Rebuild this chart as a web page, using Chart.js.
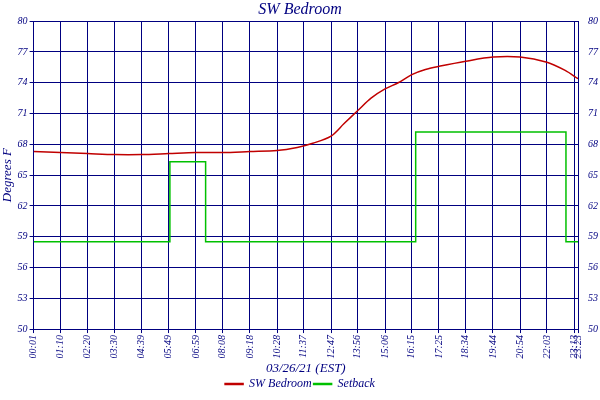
<!DOCTYPE html><html><head><script src="https://cdn.jsdelivr.net/npm/chart.js@4"></script>
<style>body{margin:0;background:#fff}#w{width:600px;height:400px}</style></head><body><div id="w"><canvas id="c"></canvas></div>
<script>
const tickLabels=["00:01","01:10","02:20","03:30","04:39","05:49","06:59","08:08","09:18","10:28","11:37","12:47","13:56","15:06","16:15","17:25","18:34","19:44","20:54","22:03","23:13","23:23"];
const tickMinutes=[1,70,140,210,279,349,419,488,558,628,697,767,836,906,975,1045,1114,1184,1254,1323,1393,1403];
const tempMinutes=[1,70,140,210,279,349,419,488,558,628,680,720,767,800,836,870,906,940,975,1010,1045,1114,1184,1254,1323,1370,1403];
const tempValues=[67.3,67.2,67.1,67.0,67.0,67.1,67.2,67.2,67.3,67.4,67.7,68.1,68.8,70.0,71.3,72.5,73.4,74.0,74.8,75.3,75.6,76.1,76.5,76.5,76.0,75.2,74.4];
const setMinutes=[1,352,352,444,444,985,985,1372,1372,1403];
const setValues=[58.5,58.5,66.3,66.3,58.5,58.5,69.2,69.2,58.5,58.5];
const yTicks=[50,53,56,59,62,65,68,71,74,77,80];
const navy='#000080', F='Liberation Serif';
const pts=(xs,ys)=>xs.map((x,i)=>({x,y:ys[i]}));
new Chart(document.getElementById('c'),{type:'line',data:{datasets:[
{label:'SW Bedroom',data:pts(tempMinutes,tempValues),borderColor:'#c00000',backgroundColor:'#c00000',borderWidth:1.5,pointRadius:0,tension:0.3},
{label:'Setback',data:pts(setMinutes,setValues),borderColor:'#00c000',backgroundColor:'#00c000',borderWidth:1.5,pointRadius:0}]},
options:{animation:false,responsive:true,maintainAspectRatio:false,layout:{padding:{left:0,right:0,top:0,bottom:0}},
plugins:{title:{display:true,text:'SW Bedroom',color:navy,font:{family:F,size:16,style:'italic',weight:'normal'},padding:{top:0,bottom:2}},
legend:{position:'bottom',labels:{color:navy,font:{family:F,size:12,style:'italic'},boxWidth:18,boxHeight:1,padding:2}}},
scales:{x:{type:'linear',min:1,max:1403,afterBuildTicks:a=>{a.ticks=tickMinutes.map(v=>({value:v}))},
ticks:{autoSkip:false,maxRotation:90,minRotation:90,padding:2,color:navy,font:{family:F,size:10,style:'italic'},callback:(v,i)=>tickLabels[i]},
grid:{color:navy,lineWidth:1,tickLength:4},border:{color:navy},title:{display:true,text:'03/26/21 (EST)',color:navy,font:{family:F,size:13,style:'italic'},padding:0}},
y:{min:50,max:80,afterBuildTicks:a=>{a.ticks=yTicks.map(v=>({value:v}))},ticks:{padding:2,color:navy,font:{family:F,size:10,style:'italic'}},grid:{color:navy,tickLength:4},border:{color:navy},
title:{display:true,text:'Degrees F',color:navy,font:{family:F,size:13,style:'italic'},padding:0}},
y2:{position:'right',min:50,max:80,afterBuildTicks:a=>{a.ticks=yTicks.map(v=>({value:v}))},ticks:{padding:2,color:navy,font:{family:F,size:10,style:'italic'}},grid:{display:false},border:{color:navy}}}}});
</script></body></html>
